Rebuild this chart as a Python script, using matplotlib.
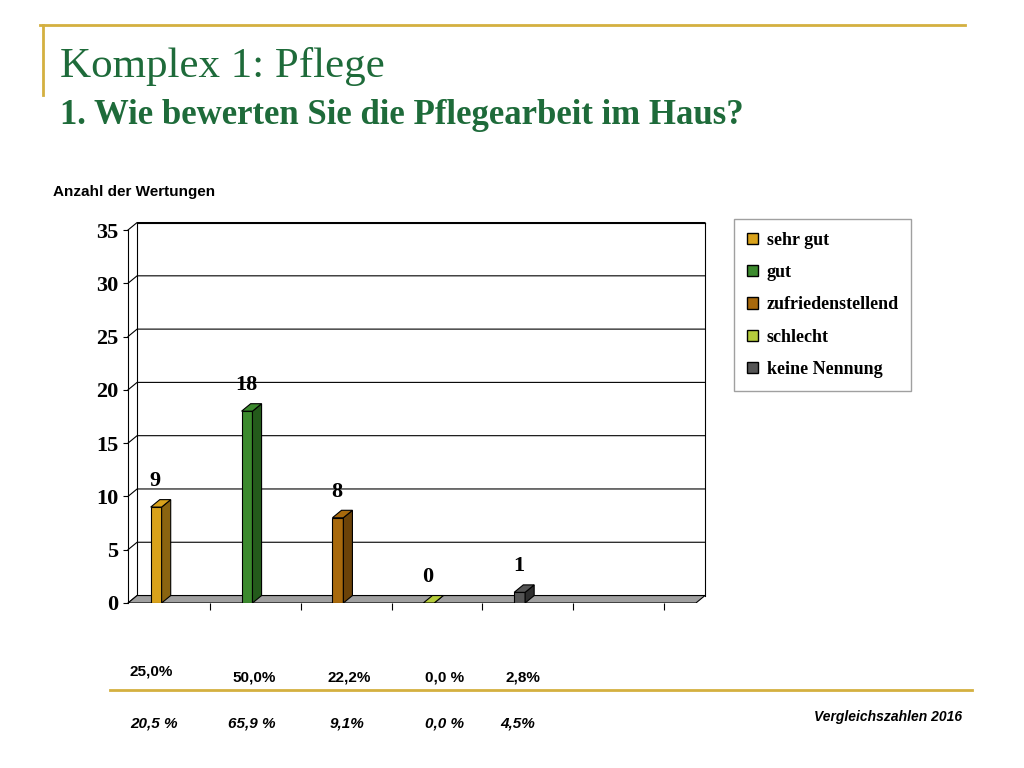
import matplotlib.pyplot as plt
from matplotlib.patches import Polygon, Rectangle
from matplotlib.lines import Line2D

categories = ["sehr gut", "gut", "zufriedenstellend", "schlecht", "keine Nennung"]
values = [9, 18, 8, 0, 1]
colors = ["#D9A21B", "#3C8A2E", "#A8690C", "#B5CC3C", "#555555"]
side_colors = ["#8A6410", "#245A1B", "#6B4208", "#7A8C22", "#2E2E2E"]
pct_2016 = ["25,0%", "50,0%", "22,2%", "0,0 %", "2,8%"]
pct_ref = ["20,5 %", "65,9 %", "9,1%", "0,0 %", "4,5%"]

fig = plt.figure(figsize=(10.24, 7.68), dpi=100)
W, H = 1024, 768
def fx(x): return x / W
def fy(y): return 1 - y / H

gold = "#D4B040"
fig.add_artist(Line2D([fx(40), fx(965)], [fy(25), fy(25)], color=gold, lw=2))
fig.add_artist(Line2D([fx(43), fx(43)], [fy(25), fy(95)], color=gold, lw=2))
fig.add_artist(Line2D([fx(110), fx(972)], [fy(690), fy(690)], color=gold, lw=2))

serif = "Liberation Serif"
fig.text(fx(60), fy(66), "Komplex 1: Pflege", fontsize=31, color="#1E6B3A", family=serif, va="center")
fig.text(fx(60), fy(115), "1. Wie bewerten Sie die Pflegearbeit im Haus?", fontsize=25, color="#1E6B3A",
         family=serif, weight="bold", va="center")
fig.text(fx(53), fy(192), "Anzahl der Wertungen", fontsize=11, weight="bold", family="Liberation Sans", va="center")

ax = fig.add_axes([fx(128), fy(603), fx(705) - fx(128), fy(230) - fy(603)])
ax.set_xlim(-0.25, 6.1)
ax.set_ylim(0, 35)
ax.set_yticks(range(0, 36, 5))
ax.set_yticklabels([str(v) for v in range(0, 36, 5)], family=serif, fontsize=16, weight="bold")
ax.set_xticks([0.65 + i for i in range(6)])
ax.set_xticklabels([])
ax.tick_params(axis="x", direction="out", length=5)
for s in ["top", "right", "bottom"]:
    ax.spines[s].set_visible(False)

dx, dy = 0.1, 0.7
bx = -0.15  # back wall left edge
# back wall gridlines
for v in range(0, 36, 5):
    ax.plot([-0.25, bx, 6.1], [v, v + dy, v + dy], color="black", lw=0.8, zorder=0, clip_on=False)
ax.plot([bx, bx], [dy, 35 + dy], color="black", lw=0.8, zorder=0, clip_on=False)
ax.plot([6.1, 6.1], [dy, 35 + dy], color="black", lw=0.8, zorder=0, clip_on=False)
ax.plot([bx, 6.1], [35 + dy, 35 + dy], color="black", lw=0.8, zorder=0, clip_on=False)
# floor
ax.add_patch(Polygon([[-0.25, 0], [6.0, 0], [6.1, dy], [bx, dy]], closed=True,
                     facecolor="#A0A0A0", edgecolor="black", lw=0.8, zorder=1))
ax.plot([-0.25, 6.0], [0, 0], color="black", lw=0.8, zorder=1)
w = 0.12
for i, (v, c, sc) in enumerate(zip(values, colors, side_colors)):
    x0 = i
    ax.bar(x0, v, width=w, align="edge", color=c, edgecolor="black", lw=0.8, zorder=3)
    ax.add_patch(Polygon([[x0 + w, 0], [x0 + w + dx, dy], [x0 + w + dx, v + dy], [x0 + w, v]],
                         facecolor=sc, edgecolor="black", lw=0.8, zorder=3))
    ax.add_patch(Polygon([[x0, v], [x0 + dx, v + dy], [x0 + w + dx, v + dy], [x0 + w, v]],
                         facecolor=c, edgecolor="black", lw=0.8, zorder=3))
    ax.text(x0 + 0.05, v + dy + 0.8, str(v), ha="center", va="bottom", family=serif,
            fontsize=16, weight="bold", zorder=4)

# legend
handles = [Rectangle((0, 0), 1, 1, facecolor=c, edgecolor="black") for c in colors]
fig.legend(handles, categories, loc="upper left", bbox_to_anchor=(fx(725), fy(210)),
           prop={"family": serif, "size": 13, "weight": "bold"}, frameon=True, fancybox=False,
           edgecolor="#888888", handlelength=0.6, handleheight=0.6, labelspacing=0.85,
           borderpad=0.7, handletextpad=0.5)

xs = [130, 232, 328, 425, 505]
for x, t in zip(xs, pct_2016):
    y = 672 if t == "25,0%" else 677
    fig.text(fx(x), fy(y), t, fontsize=11, weight="bold", family="Liberation Sans", va="center")
xs2 = [130, 228, 330, 425, 500]
for x, t in zip(xs2, pct_ref):
    fig.text(fx(x), fy(724), t, fontsize=11, weight="bold", style="italic", family="Liberation Sans", va="center")
fig.text(fx(962), fy(717), "Vergleichszahlen 2016", fontsize=10, weight="bold", style="italic",
         family="Liberation Sans", ha="right", va="center")

fig.savefig("out.png", dpi=100)
